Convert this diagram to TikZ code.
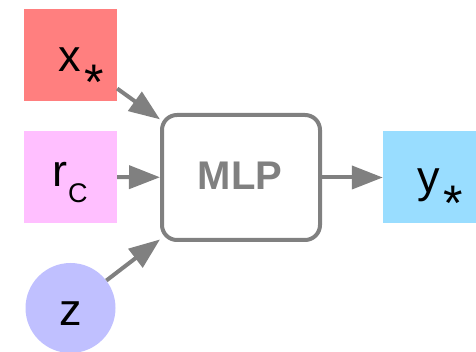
\documentclass[tikz,border=0pt]{standalone}
\usepackage{fontspec}
\setmainfont{Liberation Sans}
\usetikzlibrary{arrows.meta}
\definecolor{xcol}{HTML}{FF7F7F}
\definecolor{rcol}{HTML}{FFBFFF}
\definecolor{zcol}{HTML}{C0C0FF}
\definecolor{ycol}{HTML}{99DDFF}
\definecolor{edge}{HTML}{808080}
\newcommand\astsub{\hspace{4pt}\raisebox{-27.5pt}{\fontsize{50}{50}\selectfont *}}
\tikzset{
  sqbox/.style={rectangle, inner sep=0pt, minimum width=93pt, minimum height=92pt},
  lbl/.style={anchor=base west, inner sep=0pt, font=\fontsize{45}{45}\selectfont},
  arr/.style={draw=edge, line width=4pt, -{Triangle[length=31pt,width=23pt]}},
}
\begin{document}
\begin{tikzpicture}[x=1pt,y=-1pt]
\useasboundingbox (0,0) rectangle (476,352);
\node[sqbox, fill=xcol] (xs) at (70.5,55) {};
\node[sqbox, fill=rcol] (rc) at (70.5,177) {};
\node[circle, fill=zcol, inner sep=0pt, minimum size=90pt] (z) at (70.5,308) {};
\node[rectangle, draw=edge, line width=4pt, rounded corners=15pt, minimum width=158pt, minimum height=125pt] (mlp) at (241,177.5) {};
\node[sqbox, fill=ycol] (ys) at (429.5,177.5) {};
\node[lbl] (xt) at (58,72) {x\astsub};
\node[lbl] (rt) at (52,187) {r\hspace{1pt}\raisebox{-16pt}{\fontsize{27}{27}\selectfont C}};
\node[lbl] (zt) at (59,325) {z};
\node[lbl] (yt) at (417,193) {y\astsub};
\node[anchor=base, inner sep=0pt, text=edge, font=\fontsize{40}{40}\selectfont\bfseries] (mt) at (240,190) {MLP};
\draw[arr] (xs) -- (mlp);
\draw[arr] (rc) -- (mlp);
\draw[arr] (z) -- (mlp);
\draw[arr] (mlp) -- (ys);
\end{tikzpicture}
\end{document}
